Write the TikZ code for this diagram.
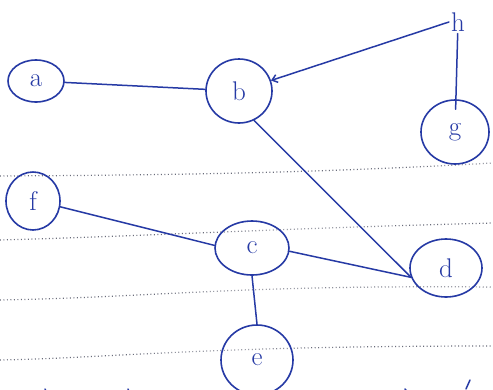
\documentclass[tikz,border=0pt]{standalone}
\usetikzlibrary{shapes.geometric,arrows.meta}
\definecolor{ink}{RGB}{38,58,165}
\definecolor{rule}{RGB}{105,108,122}
\begin{document}
\begin{tikzpicture}[x=1pt,y=-1pt,
  vertex/.style={ellipse,draw=ink,line width=1.6pt,inner sep=0pt,text=ink,
    font=\fontsize{27}{27}\selectfont},
  edge/.style={draw=ink,line width=1.5pt,line cap=round},
  ruling/.style={draw=rule,line width=1.2pt,dash pattern=on 0.9pt off 2.6pt}]
\useasboundingbox (0,0) rectangle (493,389);
\fill[white] (0,0) rectangle (493,389);

% ruled lines of the notebook page
\draw[ruling] (0,176) .. controls (200,175) and (330,172) .. (493,163);
\draw[ruling] (0,240) .. controls (150,236) and (260,229) .. (493,223);
\draw[ruling] (0,300) .. controls (160,297) and (230,285) .. (493,287);
\draw[ruling] (0,360) .. controls (110,358) and (200,346) .. (493,346);

% vertices
\node[vertex,minimum width=56pt,minimum height=42pt] (a) at (36,81) {a};
\node[vertex,minimum width=66pt,minimum height=64pt] (b) at (239,91) {b};
\node[vertex,minimum width=68pt,minimum height=64pt] (g) at (455,132) {g};
\node[vertex,minimum width=54pt,minimum height=58pt] (f) at (33,201) {f};
\node[vertex,minimum width=74pt,minimum height=54pt] (c) at (252,248) {c};
\node[vertex,minimum width=72pt,minimum height=58pt] (d) at (446,268) {d};
\node[vertex,minimum width=72pt,minimum height=70pt] (e) at (257,360) {e};
\node[text=ink,inner sep=2pt,font=\fontsize{27}{27}\selectfont] (h) at (458,22) {h};

% edges
\draw[edge] (a) -- (b);
\draw[edge,-{Straight Barb[length=5pt,width=8pt]}] (h.west) -- (b);
\draw[edge,shorten >=-10pt] (h) -- (g);
\draw[edge] (b.-63) -- (d.195);
\draw[edge] (c.-5) -- (d.195);
\draw[edge] (f.-12) -- (c.176);
\draw[edge] (c.south) -- (e.north);

% fragments of the next drawing along the lower edge
\draw[edge] (45,389) arc[start angle=160,end angle=60,radius=14];
\draw[edge] (128,389) arc[start angle=170,end angle=80,radius=12];
\draw[edge] (405,389) arc[start angle=150,end angle=70,radius=10];
\draw[edge] (466,389) -- (470,380);
\end{tikzpicture}
\end{document}
